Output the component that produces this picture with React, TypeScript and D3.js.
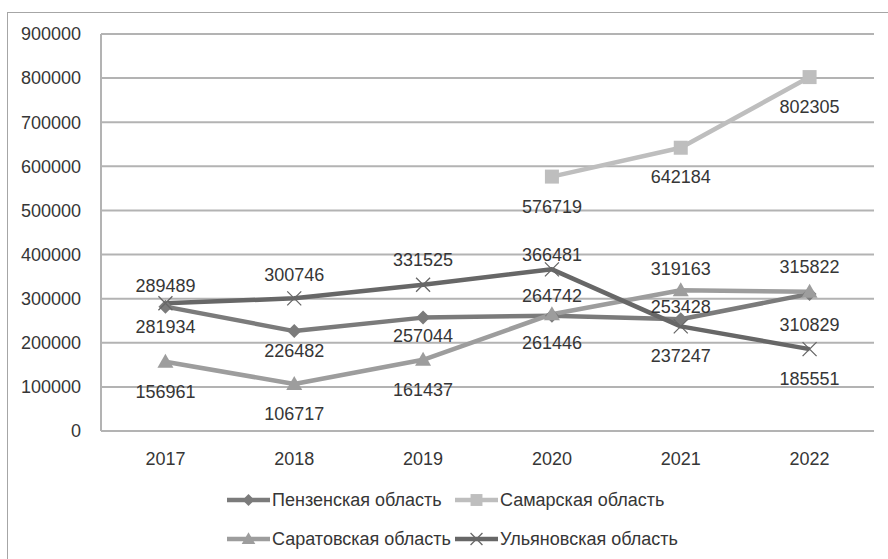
import React from "react";
import * as d3 from "d3";

const years = ["2017", "2018", "2019", "2020", "2021", "2022"];
const yTicks = [0, 100000, 200000, 300000, 400000, 500000, 600000, 700000, 800000, 900000];

const penza = [281934, 226482, 257044, 261446, 253428, 310829];
const samara = [null, null, null, 576719, 642184, 802305];
const saratov = [156961, 106717, 161437, 264742, 319163, 315822];
const ulyanovsk = [289489, 300746, 331525, 366481, 237247, 185551];

const seriesNames = ["Пензенская область", "Самарская область", "Саратовская область", "Ульяновская область"];

// label vertical offsets (px) relative to each point
const penzaLabelDy = [20, 20, 18, 27, -13, 31];
const samaraLabelDy = [0, 0, 0, 30, 29, 30];
const saratovLabelDy = [30, 30, 30, -19, -22, -25];
const ulyanovskLabelDy = [-18, -24, -25, -15, 29, 30];

type S = { name: string; values: (number | null)[]; dy: number[]; color: string; marker: string };

const series: S[] = [
  { name: seriesNames[0], values: penza, dy: penzaLabelDy, color: "#7b7b7b", marker: "diamond" },
  { name: seriesNames[1], values: samara, dy: samaraLabelDy, color: "#bebebe", marker: "square" },
  { name: seriesNames[2], values: saratov, dy: saratovLabelDy, color: "#9d9d9d", marker: "triangle" },
  { name: seriesNames[3], values: ulyanovsk, dy: ulyanovskLabelDy, color: "#676767", marker: "x" },
];

const W = 888, H = 559;
const left = 101, right = 874, top = 34, bottom = 431;
const font = "'Liberation Sans', Arial, sans-serif";
const textColor = "#363636";
const fs = 18;

function Marker({ type, x, y, color, k = 1 }: { type: string; x: number; y: number; color: string; k?: number }) {
  if (type === "diamond") {
    const r = 7 * k;
    return <path d={`M${x},${y - r}L${x + r},${y}L${x},${y + r}L${x - r},${y}Z`} fill={color} />;
  }
  if (type === "square") {
    const r = 7 * k;
    return <rect x={x - r} y={y - r} width={2 * r} height={2 * r} fill={color} />;
  }
  if (type === "triangle") {
    const r = 8 * k;
    return <path d={`M${x},${y - r}L${x + r},${y + r * 0.75}L${x - r},${y + r * 0.75}Z`} fill={color} />;
  }
  const r = 7 * k;
  return (
    <path d={`M${x - r},${y - r}L${x + r},${y + r}M${x - r},${y + r}L${x + r},${y - r}`} stroke={color} strokeWidth={1.3} fill="none" />
  );
}

export default function App() {
  const x = d3.scaleBand<string>().domain(years).range([left, right]);
  const y = d3.scaleLinear().domain([0, 900000]).range([bottom, top]);
  const cx = (yr: string) => (x(yr) as number) + x.bandwidth() / 2;

  const line = d3
    .line<number | null>()
    .defined((d) => d != null)
    .x((_, i) => cx(years[i]))
    .y((d) => y(d as number));

  const legendItems = [
    { s: series[0], lx: 227, ly: 500 },
    { s: series[1], lx: 455, ly: 500 },
    { s: series[2], lx: 227, ly: 539 },
    { s: series[3], lx: 455, ly: 539 },
  ];

  return (
    <svg width={W} height={H} style={{ position: "absolute", left: 0, top: 0 }}>
      <rect x={0} y={0} width={W} height={H} fill="#fff" />
      <rect x={7.5} y={12.5} width={W} height={H} fill="none" stroke="#a6a6a6" strokeWidth={1} />
      {yTicks.map((t) => (
        <g key={t}>
          <line x1={left} x2={right} y1={y(t)} y2={y(t)} stroke="#b3b3b3" strokeWidth={2} />
          <text x={81} y={y(t)} dy="0.35em" textAnchor="end" fontFamily={font} fontSize={fs} fill={textColor}>
            {t}
          </text>
        </g>
      ))}
      <line x1={left} x2={left} y1={top} y2={bottom} stroke="#b3b3b3" strokeWidth={2} />
      {years.map((yr) => (
        <text key={yr} x={cx(yr)} y={459} dy="0.35em" textAnchor="middle" fontFamily={font} fontSize={fs} fill={textColor}>
          {yr}
        </text>
      ))}
      {series.map((s) => (
        <path key={s.name} d={line(s.values) || ""} fill="none" stroke={s.color} strokeWidth={4.5} strokeLinejoin="round" />
      ))}
      {series.map((s) =>
        s.values.map((v, i) =>
          v == null ? null : <Marker key={s.name + i} type={s.marker} x={cx(years[i])} y={y(v)} color={s.color} />
        )
      )}
      {series.map((s) =>
        s.values.map((v, i) =>
          v == null ? null : (
            <text
              key={"l" + s.name + i}
              x={cx(years[i])}
              y={y(v) + s.dy[i]}
              dy="0.35em"
              textAnchor="middle"
              fontFamily={font}
              fontSize={fs}
              fill={textColor}
            >
              {v}
            </text>
          )
        )
      )}
      {legendItems.map(({ s, lx, ly }) => (
        <g key={"lg" + s.name}>
          <line x1={lx} x2={lx + 43} y1={ly} y2={ly} stroke={s.color} strokeWidth={4.5} />
          <Marker type={s.marker} x={lx + 21.5} y={ly} color={s.color} k={0.85} />
          <text x={lx + 45} y={ly} dy="0.35em" fontFamily={font} fontSize={fs} fill={textColor}>
            {s.name}
          </text>
        </g>
      ))}
    </svg>
  );
}
